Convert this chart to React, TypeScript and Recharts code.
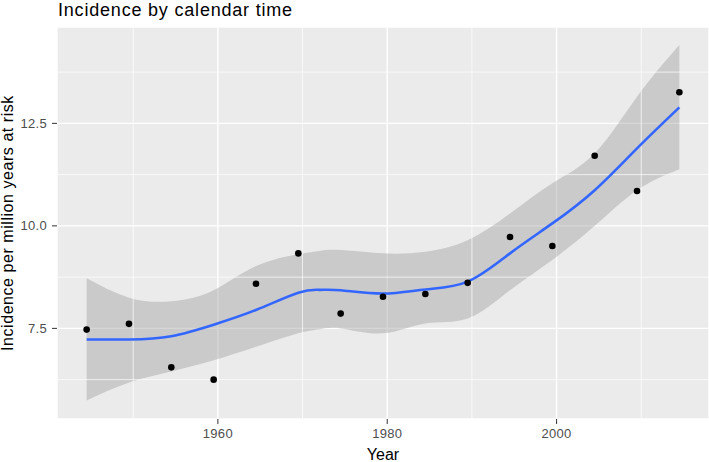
import {
  Area,
  CartesianGrid,
  ComposedChart,
  Line,
  ReferenceLine,
  Scatter,
  XAxis,
  YAxis,
} from 'recharts';

// observed incidence, one point per 5-year period
const POINT_YEARS = [1944.5, 1949.5, 1954.5, 1959.5, 1964.5, 1969.5, 1974.5, 1979.5, 1984.5, 1989.5, 1994.5, 1999.5, 2004.5, 2009.5, 2014.5];
const POINT_RATES = [7.47, 7.61, 6.55, 6.25, 8.59, 9.33, 7.86, 8.27, 8.34, 8.61, 9.73, 9.51, 11.71, 10.85, 13.26];

// loess fit + 95% band
const FIT_YEARS = [1944.5, 1949.5, 1954.5, 1959.5, 1964.5, 1969.5, 1972, 1974.5, 1979.5, 1984.5, 1989.5, 1994.5, 1999.5, 2004.5, 2009.5, 2014.5];
const FIT_MEAN  = [7.23, 7.23, 7.31, 7.59, 7.95, 8.37, 8.44, 8.43, 8.35, 8.45, 8.64, 9.33, 10.06, 10.87, 11.89, 12.89];
const FIT_LOW   = [5.74, 6.18, 6.45, 6.72, 7.05, 7.38, 7.48, 7.50, 7.38, 7.62, 7.74, 8.43, 9.17, 10.0, 10.87, 11.38];
const FIT_HIGH  = [8.72, 8.25, 8.16, 8.43, 9.02, 9.31, 9.39, 9.41, 9.33, 9.37, 9.65, 10.3, 11.04, 11.77, 13.15, 14.41];

const X_TICKS = [1960, 1980, 2000];
const X_MINOR = [1950, 1970, 1990, 2010];
const Y_TICKS = [7.5, 10, 12.5];
const Y_MINOR = [6.25, 8.75, 11.25, 13.75];

const points = POINT_YEARS.map((year, i) => ({ year, rate: POINT_RATES[i] }));
const fit = FIT_YEARS.map((year, i) => ({
  year,
  mean: FIT_MEAN[i],
  band: [FIT_LOW[i], FIT_HIGH[i]],
}));

const FONT = '"Liberation Sans", Arial, Helvetica, sans-serif';
const tickStyle = { fill: '#4D4D4D', fontSize: 13, fontFamily: FONT, letterSpacing: 0.3 };

export default function App() {
  return (
    <div style={{ position: 'absolute', left: 0, top: 0, width: 709, height: 462, background: '#fff' }}>
      <div style={{
        position: 'absolute', left: 58, top: 1,
        fontFamily: FONT, fontSize: 18, lineHeight: 1, letterSpacing: 0.8,
        color: '#000', whiteSpace: 'nowrap',
      }}>
        Incidence by calendar time
      </div>
      <ComposedChart
        width={709} height={462}
        data={fit}
        margin={{ top: 27, right: 0, left: 0, bottom: 0 }}
      >
        <CartesianGrid fill="#EBEBEB" stroke="#FFFFFF" strokeWidth={1.4} />
        {X_MINOR.map(v => (
          <ReferenceLine key={`x${v}`} x={v} stroke="#FFFFFF" strokeWidth={0.7} />
        ))}
        {Y_MINOR.map(v => (
          <ReferenceLine key={`y${v}`} y={v} stroke="#FFFFFF" strokeWidth={0.7} />
        ))}

        <XAxis
          type="number" dataKey="year"
          domain={[1941, 2018]} ticks={X_TICKS} allowDataOverflow
          height={43}
          axisLine={false}
          tickLine={{ stroke: '#333333', strokeWidth: 1 }}
          tickSize={5} tickMargin={5}
          tick={tickStyle}
          label={{ value: 'Year', position: 'insideBottom', offset: 2, fill: '#000', fontSize: 16, fontFamily: FONT }}
        />
        <YAxis
          type="number"
          domain={[5.29, 14.85]} ticks={Y_TICKS} allowDataOverflow
          width={57}
          axisLine={false}
          tickLine={{ stroke: '#333333', strokeWidth: 1 }}
          tickSize={5} tickMargin={5}
          tick={tickStyle}
          tickFormatter={(v: number) => v.toFixed(1)}
          label={{
            value: 'Incidence per million years at risk',
            angle: -90, position: 'insideLeft', offset: 7,
            style: { textAnchor: 'middle', fill: '#000', fontSize: 16, letterSpacing: 0.55, fontFamily: FONT },
          }}
        />

        <Area
          dataKey="band" type="natural"
          stroke="none" fill="#999999" fillOpacity={0.4}
          isAnimationActive={false} activeDot={false}
        />
        <Line
          dataKey="mean" type="natural"
          stroke="#3366FF" strokeWidth={2.6} dot={false}
          isAnimationActive={false} activeDot={false}
        />
        <Scatter
          data={points} dataKey="rate"
          isAnimationActive={false}
          shape={(p: any) => <circle cx={p.cx} cy={p.cy} r={3.3} fill="#000" />}
        />
      </ComposedChart>
    </div>
  );
}
